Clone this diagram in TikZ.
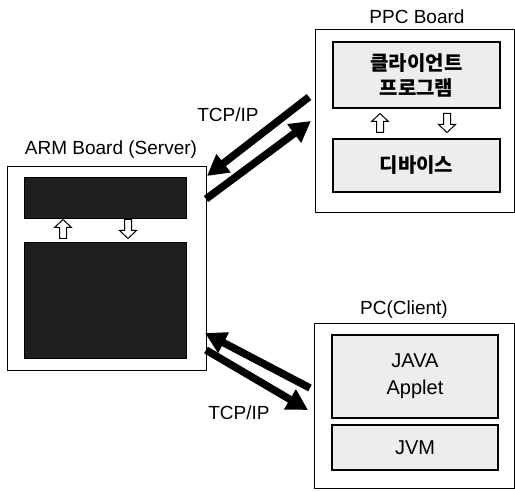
\documentclass[tikz,border=0pt]{standalone}
\usepackage{fontspec}
\setmainfont{Liberation Sans}
\newfontfamily\krfont{Noto Sans CJK KR}
\usetikzlibrary{arrows.meta}
\begin{document}
\begin{tikzpicture}[x=1pt,y=-1pt,
  outerbox/.style={draw, line width=0.9pt, inner sep=0pt},
  darkbox/.style={draw=black, fill=black!88, line width=0.8pt, inner sep=0pt},
  lightbox/.style={draw, line width=1.3pt, fill=black!7, inner sep=0pt, align=center},
  title/.style={font=\fontsize{19}{22}\selectfont, inner sep=0pt},
  krtext/.style={font=\krfont\bfseries\fontsize{20}{25}\selectfont},
  entext/.style={font=\fontsize{20}{27}\selectfont},
  bigarrow/.style={line width=7.5pt, -{Triangle[length=21pt,width=22pt]}},
  hollowup/.pic={\draw[line width=1pt, fill=white] (0,-9.5) -- (8.5,-1.5) -- (3.5,-1.5) -- (3.5,9.5) -- (-3.5,9.5) -- (-3.5,-1.5) -- (-8.5,-1.5) -- cycle;}
]
\useasboundingbox (0,0) rectangle (515,492);

% ARM board
\node[outerbox, minimum width=199pt, minimum height=204pt] (arm) at (106.5,268) {};
\node[title] (armlabel) at (111,150) {ARM Board (Server)};
\node[darkbox, minimum width=162pt, minimum height=41pt] (armtop) at (105,197.5) {};
\node[darkbox, minimum width=162pt, minimum height=116pt] (armbot) at (105,300) {};
\pic at (63,229) {hollowup};
\pic[rotate=180] at (128,229) {hollowup};

% PPC board
\node[outerbox, minimum width=199pt, minimum height=183pt] (ppc) at (414.5,120.5) {};
\node[title] (ppclabel) at (417,17) {PPC Board};
\node[lightbox, krtext, minimum width=167pt, minimum height=66pt] (ppcA) at (416.5,75) {클라이언트\\프로그램};
\node[lightbox, krtext, minimum width=167pt, minimum height=53pt] (ppcB) at (416.5,165.5) {디바이스};
\pic at (380,123) {hollowup};
\pic[rotate=180] at (447,123) {hollowup};

% PC client
\node[outerbox, minimum width=200pt, minimum height=165pt] (pc) at (414,405.5) {};
\node[title] (pclabel) at (404,310) {PC(Client)};
\node[lightbox, entext, minimum width=166pt, minimum height=83pt] (pcA) at (415,376.5) {JAVA\\Applet};
\node[lightbox, entext, minimum width=166pt, minimum height=45pt] (pcB) at (415,447.5) {JVM};

% TCP/IP arrows
\coordinate (a1s) at (309,97);
\coordinate (a1e) at (207,176);
\coordinate (a2s) at (206,199);
\coordinate (a2e) at (311,121);
\coordinate (a3s) at (310,388);
\coordinate (a3e) at (205,333);
\coordinate (a4s) at (206,350);
\coordinate (a4e) at (308,410);
\draw[bigarrow] (a1s) -- (a1e);
\draw[bigarrow] (a2s) -- (a2e);
\draw[bigarrow] (a3s) -- (a3e);
\draw[bigarrow] (a4s) -- (a4e);
\node[title] (tcp1) at (228,115) {TCP/IP};
\node[title] (tcp2) at (239,413) {TCP/IP};
\end{tikzpicture}
\end{document}
